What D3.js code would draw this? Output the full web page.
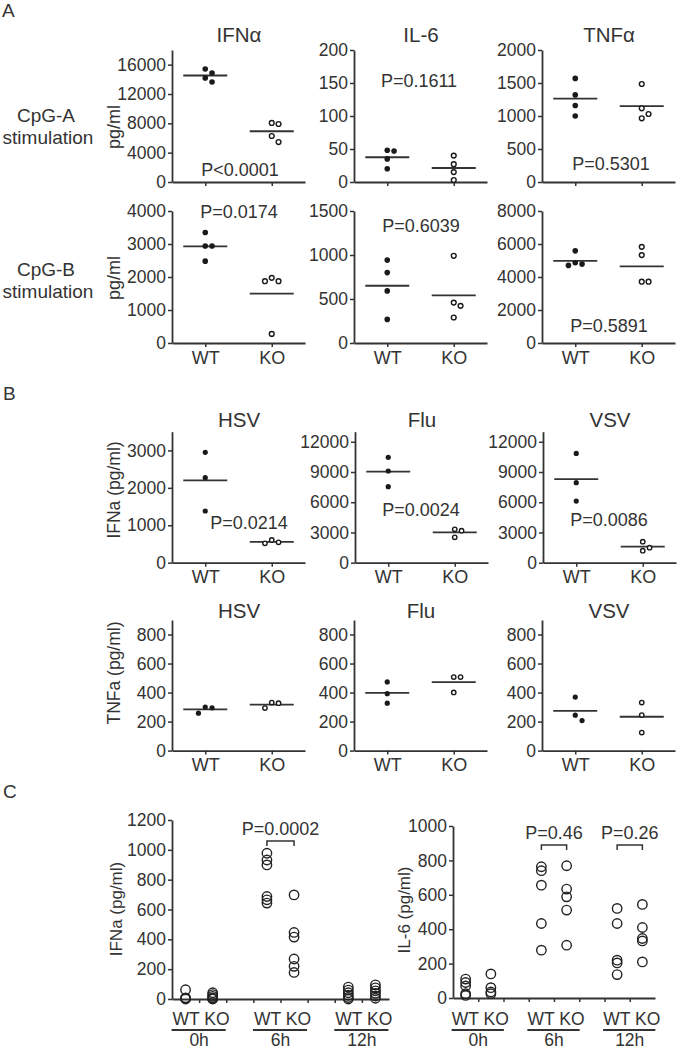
<!DOCTYPE html>
<html><head><meta charset="utf-8">
<script src="https://cdn.jsdelivr.net/npm/d3@7"></script>
<style>
body{margin:0;background:#fff}
text{font-family:"Liberation Sans",Arial,Helvetica,sans-serif;fill:#333}
</style>
</head><body>
<svg id="chart" width="677" height="1050"></svg>
<script>
// ---------------- DATA ----------------
const genotypes = ["WT", "KO"];
const cytokinesA = ["IFNα", "IL-6", "TNFα"];
const stimuliA = ["CpG-A", "CpG-B"];
const viruses = ["HSV", "Flu", "VSV"];
const timepoints = ["0h", "6h", "12h"];

// Panel A, CpG-A stimulation (pg/ml)
const cpgA_IFNa_WT = [15400, 14870, 14180, 13640];
const cpgA_IFNa_KO = [8050, 7910, 6270, 5450];
const cpgA_IL6_WT = [48, 47, 35, 20];
const cpgA_IL6_KO = [40, 27, 15, 3];
const cpgA_TNFa_WT = [1570, 1320, 1160, 1000];
const cpgA_TNFa_KO = [1485, 1117, 1030, 965];
// Panel A, CpG-B stimulation (pg/ml)
const cpgB_IFNa_WT = [3350, 2940, 2940, 2480];
const cpgB_IFNa_KO = [1975, 1872, 1872, 275];
const cpgB_IL6_WT = [942, 800, 592, 268];
const cpgB_IL6_KO = [991, 459, 422, 290];
const cpgB_TNFa_WT = [5585, 4861, 4783, 4704];
const cpgB_TNFa_KO = [5826, 5326, 3715, 3715];
const pValuesA = [["P<0.0001", "P=0.1611", "P=0.5301"], ["P=0.0174", "P=0.6039", "P=0.5891"]];
const yMaxA = [[18000, 200, 2000], [4000, 1500, 8000]];
const yTicksA = [
  [[0, 4000, 8000, 12000, 16000], [0, 50, 100, 150, 200], [0, 500, 1000, 1500, 2000]],
  [[0, 1000, 2000, 3000, 4000], [0, 500, 1000, 1500], [0, 2000, 4000, 6000, 8000]]
];

// Panel B, virus infection
const virIFNa_HSV_WT = [2950, 2271, 1381];
const virIFNa_HSV_KO = [606, 545, 518];
const virIFNa_Flu_WT = [10460, 9100, 7540];
const virIFNa_Flu_KO = [3314, 3175, 2520];
const virIFNa_VSV_WT = [10840, 7940, 6120];
const virIFNa_VSV_KO = [2085, 1490, 1190];
const virTNFa_HSV_WT = [300, 295, 258];
const virTNFa_HSV_KO = [331, 327, 293];
const virTNFa_Flu_WT = [473, 392, 327];
const virTNFa_Flu_KO = [507, 507, 401];
const virTNFa_VSV_WT = [369, 244, 207];
const virTNFa_VSV_KO = [331, 245, 124];
const pValuesB = ["P=0.0214", "P=0.0024", "P=0.0086"];
const yMaxB = [[3500, 13000, 13000], [900, 900, 900]];
const yTicksB = [
  [[0, 1000, 2000, 3000], [0, 3000, 6000, 9000, 12000], [0, 3000, 6000, 9000, 12000]],
  [[0, 200, 400, 600, 800], [0, 200, 400, 600, 800], [0, 200, 400, 600, 800]]
];

// Panel C, time course
const cIFNa_0h_WT = [62, 8, 3, 0];
const cIFNa_0h_KO = [42, 30, 18, 8, 2, 0];
const cIFNa_6h_WT = [977, 932, 899, 687, 665, 643];
const cIFNa_6h_KO = [698, 446, 415, 268, 219, 178];
const cIFNa_12h_WT = [80, 60, 42, 25, 10, 0];
const cIFNa_12h_KO = [95, 75, 55, 38, 20, 5];
const cIL6_0h_WT = [110, 90, 70, 25, 15];
const cIL6_0h_KO = [140, 60, 35, 25];
const cIL6_6h_WT = [763, 740, 656, 433, 278];
const cIL6_6h_KO = [769, 633, 588, 511, 307];
const cIL6_12h_WT = [521, 433, 220, 204, 136];
const cIL6_12h_KO = [544, 410, 346, 332, 210];
const yTicksC_IFNa = [0, 200, 400, 600, 800, 1000, 1200];
const yTicksC_IL6 = [0, 200, 400, 600, 800, 1000];
const pValuesC_IFNa = ["P=0.0002"];
const pValuesC_IL6 = ["P=0.46", "P=0.26"];
const bracketC_IFNa = [1060];
const bracketC_IL6 = [890, 890];

// ---------------- DRAWING ----------------
const svg = d3.select("#chart");
const INK = "#333";
const FONT_TICK = "17.5px";

function styleAxis(g) {
  g.select(".domain").attr("stroke", INK).attr("stroke-width", 1.8);
  g.selectAll(".tick line").attr("stroke", INK).attr("stroke-width", 1.5);
  g.selectAll(".tick text").attr("fill", INK).style("font-size", FONT_TICK)
    .style("font-family", '"Liberation Sans",Arial,sans-serif');
}

function dodge(vals, y, d, minDist) {
  const pts = vals.map((v, i) => ({ v, i, y: y(v) })).sort((a, b) => a.y - b.y);
  const placed = [];
  const order = [0, d, -d, 2 * d, -2 * d];
  pts.forEach(p => {
    p.dx = 0;
    for (const o of order) {
      if (placed.every(q => Math.hypot(q.dx - o, q.y - p.y) >= minDist)) { p.dx = o; break; }
    }
    placed.push(p);
  });
  return placed;
}

function dotPanel(cfg) {
  const g = svg.append("g");
  const y = d3.scaleLinear().domain([0, cfg.yMax]).range([cfg.yBottom, cfg.yTop]);
  const x = d3.scalePoint().domain(genotypes).range([cfg.x0, cfg.x0 + 133]).padding(0.5);
  const ya = g.append("g").attr("transform", `translate(${cfg.x0},0)`)
    .call(d3.axisLeft(y).tickValues(cfg.ticks).tickSize(4).tickPadding(2).tickSizeOuter(0).tickFormat(d3.format("d")));
  styleAxis(ya);
  const xa = g.append("g").attr("transform", `translate(0,${cfg.yBottom})`)
    .call(d3.axisBottom(x).tickSize(4).tickPadding(4).tickSizeOuter(0).tickFormat(cfg.xLabels ? (d => d) : ""));
  styleAxis(xa);
  xa.selectAll(".tick text").style("font-size", "18px");

  [cfg.wt, cfg.ko].forEach((vals, gi) => {
    const cx = x(genotypes[gi]);
    const m = d3.mean(vals);
    g.append("line").attr("x1", cx - 22).attr("x2", cx + 22)
      .attr("y1", y(m)).attr("y2", y(m)).attr("stroke", INK).attr("stroke-width", 1.8);
    const pts = dodge(vals, y, 6.8, 6.3);
    g.selectAll(null).data(pts).enter().append("circle")
      .attr("cx", p => cx + p.dx).attr("cy", p => p.y)
      .attr("r", gi === 0 ? cfg.r : cfg.r - 0.4)
      .attr("fill", gi === 0 ? "#1a1a1a" : "#fff")
      .attr("stroke", "#1a1a1a").attr("stroke-width", gi === 0 ? 0 : 1.4);
  });
  if (cfg.title) g.append("text").attr("x", cfg.x0 + 67).attr("y", cfg.titleY)
    .attr("text-anchor", "middle").style("font-size", "20.5px").text(cfg.title);
  if (cfg.p) g.append("text").attr("x", cfg.px).attr("y", cfg.py)
    .attr("text-anchor", "middle").style("font-size", "18px").text(cfg.p);
}

function vLabel(text, x, y, size) {
  svg.append("text").attr("transform", `translate(${x},${y}) rotate(-90)`)
    .attr("text-anchor", "middle").attr("dy", "0.35em").style("font-size", size).text(text);
}
function label(text, x, y, size, anchor) {
  svg.append("text").attr("x", x).attr("y", y).attr("text-anchor", anchor || "middle")
    .style("font-size", size).text(text);
}

// ----- Panel A -----
const dataA = [
  [[cpgA_IFNa_WT, cpgA_IFNa_KO], [cpgA_IL6_WT, cpgA_IL6_KO], [cpgA_TNFa_WT, cpgA_TNFa_KO]],
  [[cpgB_IFNa_WT, cpgB_IFNa_KO], [cpgB_IL6_WT, cpgB_IL6_KO], [cpgB_TNFa_WT, cpgB_TNFa_KO]]
];
const colX = [172, 354, 542];
const rowA = [{ top: 50, bottom: 182 }, { top: 211, bottom: 343 }];
const pPosA = [[[240, 176], [419, 87], [611, 170]], [[239, 218], [421, 232], [609, 332]]];
dataA.forEach((row, ri) => row.forEach((d, ci) => {
  dotPanel({
    x0: colX[ci], yTop: rowA[ri].top, yBottom: rowA[ri].bottom, yMax: yMaxA[ri][ci], ticks: yTicksA[ri][ci],
    wt: d[0], ko: d[1], r: 2.8, xLabels: ri === 1,
    title: ri === 0 ? cytokinesA[ci] : null, titleY: 42,
    p: pValuesA[ri][ci], px: pPosA[ri][ci][0], py: pPosA[ri][ci][1]
  });
}));
label("A", 2, 17, "19px", "start");
label(stimuliA[0], 46, 122, "19px");
label("stimulation", 48, 144, "19px");
label(stimuliA[1], 46, 276, "19px");
label("stimulation", 48, 298, "19px");
vLabel("pg/ml", 114, 127, "18px");
vLabel("pg/ml", 114, 278, "18px");

// ----- Panel B -----
const dataB = [
  [[virIFNa_HSV_WT, virIFNa_HSV_KO], [virIFNa_Flu_WT, virIFNa_Flu_KO], [virIFNa_VSV_WT, virIFNa_VSV_KO]],
  [[virTNFa_HSV_WT, virTNFa_HSV_KO], [virTNFa_Flu_WT, virTNFa_Flu_KO], [virTNFa_VSV_WT, virTNFa_VSV_KO]]
];
const rowB = [{ top: 431.7, bottom: 562.7, titleY: 427 }, { top: 620, bottom: 750.6, titleY: 618 }];
const pPosB = [[249, 529], [421, 516], [609, 526]];
dataB.forEach((row, ri) => row.forEach((d, ci) => {
  dotPanel({
    x0: colX[ci] + (ri === 0 && ci > 0 ? 1 : 0), yTop: rowB[ri].top, yBottom: rowB[ri].bottom,
    yMax: yMaxB[ri][ci], ticks: yTicksB[ri][ci],
    wt: d[0], ko: d[1], r: 2.6, xLabels: true,
    title: viruses[ci], titleY: rowB[ri].titleY,
    p: ri === 0 ? pValuesB[ci] : null, px: ri === 0 ? pPosB[ci][0] : 0, py: ri === 0 ? pPosB[ci][1] : 0
  });
}));
label("B", 3, 400, "19px", "start");
vLabel("IFNa (pg/ml)", 114, 490, "17.5px");
vLabel("TNFa (pg/ml)", 114, 673, "17.5px");

// ----- Panel C -----
function timePanel(cfg) {
  const g = svg.append("g");
  const x = d3.scaleLinear().domain([-0.5, 7.5]).range([cfg.x0, cfg.x1]);
  const y = d3.scaleLinear().domain([0, cfg.yMax]).range([cfg.yBottom, cfg.yTop]);
  const ya = g.append("g").attr("transform", `translate(${cfg.x0},0)`)
    .call(d3.axisLeft(y).tickValues(cfg.ticks).tickSize(4).tickPadding(2).tickSizeOuter(0).tickFormat(d3.format("d")));
  styleAxis(ya);
  const xa = g.append("g").attr("transform", `translate(0,${cfg.yBottom})`)
    .call(d3.axisBottom(x).tickValues(d3.range(0.5, 7, 1)).tickSize(4).tickSizeOuter(0).tickFormat(""));
  styleAxis(xa);
  timepoints.forEach((tp, ti) => {
    genotypes.forEach((gt, gi) => {
      const slot = ti * 3 + gi;
      g.selectAll(null).data(cfg.data[ti][gi]).enter().append("circle")
        .attr("cx", x(slot)).attr("cy", d => y(d)).attr("r", 4.7)
        .attr("fill", "none").attr("stroke", "#222").attr("stroke-width", 1.4);
    });
    const xa0 = x(ti * 3), xb0 = x(ti * 3 + 1);
    label(genotypes.join(" "), (xa0 + xb0) / 2 + 2, 1025, "17.5px");
    g.append("line").attr("x1", xa0 - 14).attr("x2", xb0 + 13).attr("y1", 1030).attr("y2", 1030)
      .attr("stroke", INK).attr("stroke-width", 2);
    label(tp, (xa0 + xb0) / 2, 1046, "17.5px");
  });
  cfg.brackets.forEach((b, i) => {
    const s = cfg.bracketSlots[i];
    const xl = x(s), xr = x(s + 1), yb = y(b);
    g.append("path").attr("d", `M${xl},${yb + 5}V${yb}H${xr}V${yb + 5}`)
      .attr("fill", "none").attr("stroke", INK).attr("stroke-width", 1.5);
    label(cfg.p[i], (xl + xr) / 2, yb - 5.5, "18px");
  });
}
timePanel({
  x0: 172, x1: 389, yTop: 820, yBottom: 999, yMax: 1200, ticks: yTicksC_IFNa,
  data: [[cIFNa_0h_WT, cIFNa_0h_KO], [cIFNa_6h_WT, cIFNa_6h_KO], [cIFNa_12h_WT, cIFNa_12h_KO]],
  brackets: bracketC_IFNa, bracketSlots: [3], p: pValuesC_IFNa
});
timePanel({
  x0: 453, x1: 655, yTop: 826, yBottom: 998, yMax: 1000, ticks: yTicksC_IL6,
  data: [[cIL6_0h_WT, cIL6_0h_KO], [cIL6_6h_WT, cIL6_6h_KO], [cIL6_12h_WT, cIL6_12h_KO]],
  brackets: bracketC_IL6, bracketSlots: [3, 6], p: pValuesC_IL6
});
label("C", 3, 798, "19px", "start");
vLabel("IFNa (pg/ml)", 116, 909, "17px");
vLabel("IL-6 (pg/ml)", 404, 910, "17px");
</script>
</body></html>
